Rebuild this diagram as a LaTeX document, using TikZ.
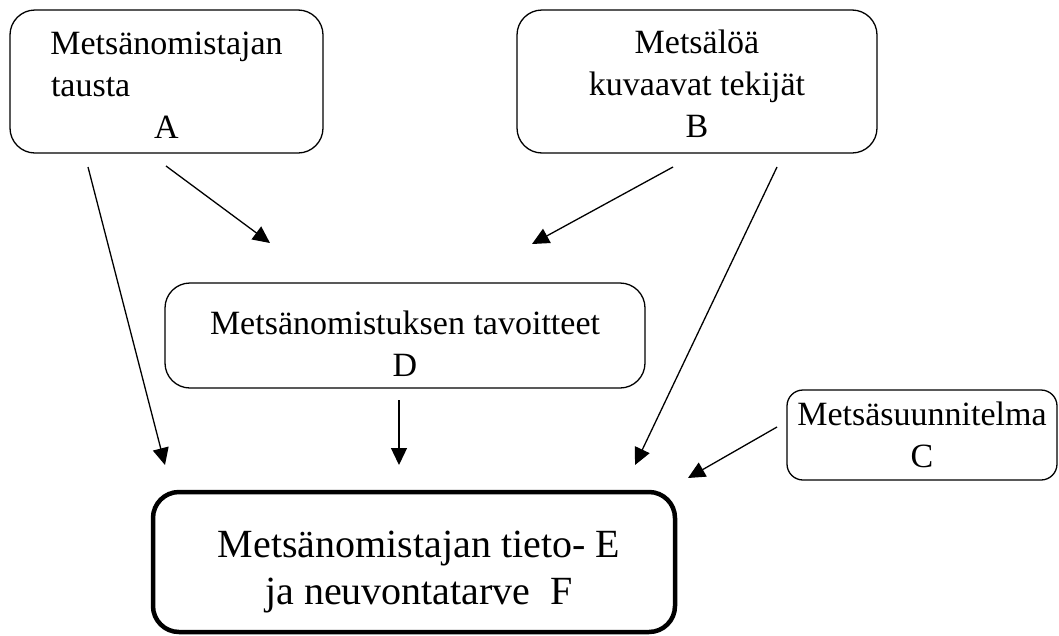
\documentclass[tikz,border=0pt]{standalone}
\usepackage{fontspec}
\setmainfont{Liberation Serif}
\usetikzlibrary{arrows.meta}
\begin{document}
\begin{tikzpicture}[x=1pt,y=-1pt,
  box/.style={draw, line width=1.3pt, rounded corners=25pt, align=center, inner sep=0pt,
    font=\fontsize{34}{42}\selectfont},
  bigbox/.style={draw, line width=4.5pt, rounded corners=26pt, align=center, inner sep=0pt,
    font=\fontsize{40}{47}\selectfont},
  conn/.style={line width=1.3pt, -{Triangle[length=17pt,width=16pt]}}]
\useasboundingbox (0,0) rectangle (1059,635);
\node[box, minimum width=313pt, minimum height=143pt] (A) at (166.5,81.5)
  {\rule{0pt}{29pt}Metsänomistajan\\ \makebox[233pt][l]{\hspace{1pt}tausta}\\ A};
\node[box, minimum width=360pt, minimum height=143pt] (B) at (697,81.5)
  {\rule{0pt}{29pt}Metsälöä\\ kuvaavat tekijät\\ B};
\node[box, minimum width=480pt, minimum height=105pt] (D) at (405,335.5)
  {\rule{0pt}{40pt}Metsänomistuksen tavoitteet\\ D};
\node[box, rounded corners=16pt, minimum width=270pt, minimum height=90pt] (C) at (922,435)
  {Metsäsuunnitelma\\ C};
\node[bigbox, minimum width=522pt, minimum height=140pt] (E) at (414,562)
  {\rule{0pt}{46pt}\hspace*{10pt}Metsänomistajan tieto- E\\ \hspace*{10pt}ja neuvontatarve\ \ F};
% connector end points
\coordinate (a1) at (88,167);   \coordinate (e1) at (165,465);
\coordinate (a2) at (166,166);  \coordinate (d1) at (270,243);
\coordinate (b1) at (673,167);  \coordinate (d2) at (532,244);
\coordinate (b2) at (777,167);  \coordinate (e2) at (635,465);
\coordinate (d3) at (399,400);  \coordinate (e3) at (399,465);
\coordinate (c1) at (777,427);  \coordinate (e4) at (688,478);
\draw[conn] (a1) -- (e1);
\draw[conn] (a2) -- (d1);
\draw[conn] (b1) -- (d2);
\draw[conn] (b2) -- (e2);
\draw[conn] (d3) -- (e3);
\draw[conn] (c1) -- (e4);
\end{tikzpicture}
\end{document}
